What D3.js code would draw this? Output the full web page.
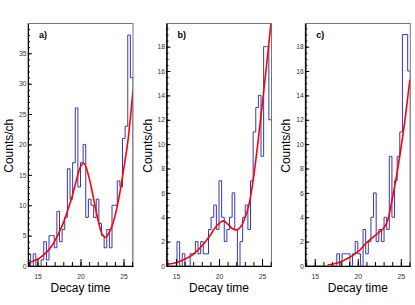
<!DOCTYPE html>
<html>
<head>
<meta charset="utf-8">
<script src="https://cdn.jsdelivr.net/npm/d3@7"></script>
<style>
  body { margin: 0; background: #fff; }
  svg { display: block; font-family: "Liberation Sans", Arial, sans-serif; }
</style>
</head>
<body>
<svg id="chart" width="415" height="305"></svg>
<script>
// histogram contents, 40 bins over the frame range
var histRange = [13.9, 26.1];
var countsA = [2,0,2,0,0,1,4,1,5,5,3,9,4,6,8,16,11,17,26,13,17,20,8,11,10,8,11,7,5,3,6,3,10,10,14,13,21,23,38,31];
var countsB = [0,0,0,0,2,0,1,0,0,1,1,2,1,2,1,1,3,4,5,3,7,4,2,3,4,6,3,0,2,4,5,3,7,11,13,14,9,18,18,12];
var countsC = [0,0,0,0,0,0,0,0,0,0,0,0,1,0,1,1,1,0,1,2,1,0,3,1,2,4,6,2,3,2,4,3,9,4,7,9,11,19,19,16];

// fitted curves
var fitTimesA = [14, 14.5, 15, 15.5, 16, 16.5, 17, 17.5, 18, 18.5, 19, 19.5, 20, 20.4, 21, 21.5, 22, 22.5, 22.9, 23.5, 24, 24.5, 25, 25.5, 26.1];
var fitA      = [0.5, 0.8, 1.1, 1.6, 2.2, 3.0, 4.1, 5.5, 7.1, 9.1, 11.3, 14.0, 16.3, 16.9, 14.5, 11.2, 7.8, 5.3, 4.7, 6.0, 8.2, 11.5, 15.8, 20.5, 29];
var fitTimesB = [14, 15, 16, 17, 18, 19, 19.5, 20, 20.5, 21, 21.5, 22, 22.5, 23, 23.5, 24, 24.5, 25, 25.5, 26.05];
var fitB      = [0.14, 0.27, 0.55, 0.96, 1.64, 2.55, 3.1, 3.5, 3.7, 3.45, 3.1, 2.95, 3.2, 3.9, 5.1, 7.2, 10.0, 13.1, 16.3, 20];
var fitTimesC = [16.5, 17.4, 18.2, 19, 20, 21, 22, 23, 23.5, 24, 24.5, 25, 25.5, 26.05];
var fitC      = [0.08, 0.2, 0.4, 0.7, 1.15, 1.9, 2.5, 3.1, 3.8, 5.5, 7.4, 9.6, 12.1, 15.3];

var panelNames = ["a)", "b)", "c)"];
var yMaxes = [39.9, 19.9, 19.9];
var yMajorSteps = [5, 2, 2];
var yMinorSteps = [1, 0.5, 0.5];
var xMajorTicks = [15, 20, 25];

var panels = [
  {counts: countsA, ft: fitTimesA, fv: fitA},
  {counts: countsB, ft: fitTimesB, fv: fitB},
  {counts: countsC, ft: fitTimesC, fv: fitC}
];

var svg = d3.select("#chart");
var lefts = [28, 166.5, 305.3];
var pw = 105, frameTop = 23.5, frameBottom = 266;

panels.forEach(function(p, k){
    var L = lefts[k];
    var x = d3.scaleLinear().domain(histRange).range([L, L + pw]);
    var y = d3.scaleLinear().domain([0, yMaxes[k]]).range([frameBottom, frameTop]);

    var g = svg.append("g");

    svg.append("clipPath").attr("id", "clip" + k)
        .append("rect").attr("x", L).attr("y", frameTop).attr("width", pw).attr("height", frameBottom - frameTop);

    // histogram outline
    var n = p.counts.length;
    var bw = (histRange[1] - histRange[0]) / n;
    var pts = [[histRange[0], 0]];
    p.counts.forEach(function(c, i){ pts.push([histRange[0] + i * bw, c]); });
    pts.push([histRange[1], p.counts[n - 1]]);
    pts.push([histRange[1], 0]);
    var step = d3.line()
        .x(function(d){ return x(d[0]); })
        .y(function(d){ return y(d[1]); })
        .curve(d3.curveStepAfter);
    g.append("path")
        .attr("clip-path", "url(#clip" + k + ")")
        .attr("d", step(pts))
        .attr("fill", "none")
        .attr("stroke", "#3636b8")
        .attr("stroke-width", 1);

    // fit
    var fitData = p.ft.map(function(t, i){ return [t, p.fv[i]]; });
    var fitLine = d3.line()
        .x(function(d){ return x(d[0]); })
        .y(function(d){ return y(d[1]); })
        .curve(d3.curveCatmullRom);
    g.append("path")
        .attr("clip-path", "url(#clip" + k + ")")
        .attr("d", fitLine(fitData))
        .attr("fill", "none")
        .attr("stroke", "#ff0000")
        .attr("stroke-width", 1.6);

    // frame
    g.append("rect")
        .attr("x", L).attr("y", frameTop).attr("width", pw).attr("height", frameBottom - frameTop)
        .attr("fill", "none").attr("stroke", "#777").attr("stroke-width", 1);

    // x axis
    var xMinor = d3.axisBottom(x).tickValues(d3.range(14, 27, 1))
        .tickSizeInner(-4).tickSizeOuter(0).tickFormat("");
    var xMajor = d3.axisBottom(x).tickValues(xMajorTicks)
        .tickSizeInner(-7).tickSizeOuter(0).tickPadding(8);
    g.append("g").attr("transform", "translate(0," + frameBottom + ")").call(xMinor);
    var xa = g.append("g").attr("transform", "translate(0," + frameBottom + ")").call(xMajor);
    xa.selectAll("text").attr("font-size", 6.8).attr("fill", "#333")
        .attr("font-family", "Liberation Sans, Arial, sans-serif");

    // y axis
    var yMinor = d3.axisLeft(y).tickValues(d3.range(0, yMaxes[k], yMinorSteps[k]))
        .tickSizeInner(-2).tickSizeOuter(0).tickFormat("");
    var yMajor = d3.axisLeft(y).tickValues(d3.range(0, yMaxes[k], yMajorSteps[k]))
        .tickSizeInner(-4).tickSizeOuter(0).tickPadding(1.5);
    g.append("g").attr("transform", "translate(" + L + ",0)").call(yMinor);
    var ya = g.append("g").attr("transform", "translate(" + L + ",0)").call(yMajor);
    ya.selectAll("text").attr("font-size", 6.8).attr("fill", "#333")
        .attr("font-family", "Liberation Sans, Arial, sans-serif");

    g.selectAll(".domain").attr("stroke", "#000");
    g.selectAll(".tick line").attr("stroke", "#000");

    // panel name
    g.append("text").attr("x", L + 11).attr("y", 37.5)
        .attr("font-size", 9).attr("font-weight", "bold")
        .text(panelNames[k]);

    // axis titles
    g.append("text")
        .attr("transform", "translate(" + (L - 15) + "," + ((frameTop + frameBottom) / 2 + 1) + ") rotate(-90)")
        .attr("text-anchor", "middle")
        .attr("font-size", 12)
        .text("Counts/ch");
    g.append("text")
        .attr("x", L + pw / 2).attr("y", 292)
        .attr("text-anchor", "middle")
        .attr("font-size", 12)
        .text("Decay time");
});
</script>
</body>
</html>
